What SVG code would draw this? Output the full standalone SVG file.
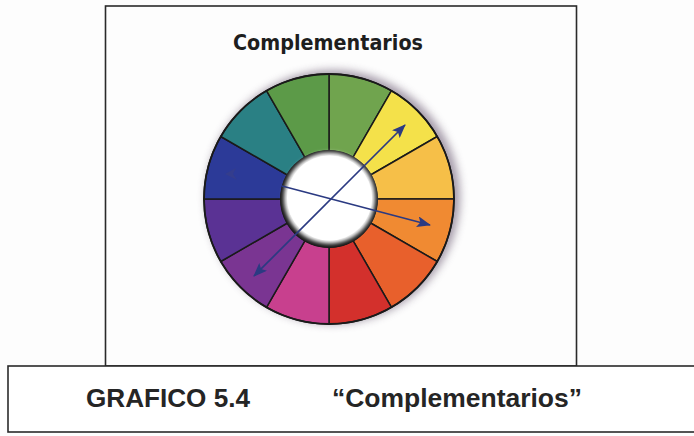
<svg xmlns="http://www.w3.org/2000/svg" width="694" height="436" viewBox="0 0 694 436">
<defs>
<style>
.frame{fill:none;stroke:#2a2a2a;stroke-width:1.6}
.seg{stroke:#1a1a1a;stroke-width:1.5;stroke-linejoin:round}
.arrow{stroke:#2b3a82;stroke-width:1.7;fill:none}
.title{font-family:"DejaVu Sans",Verdana,sans-serif;font-weight:bold;font-size:20.5px;fill:#1e1e1e}
.cap{font-family:"Liberation Sans",Arial,sans-serif;font-weight:bold;font-size:25px;fill:#252525}
</style>
<path id="sector" d="M0,-125 A125,125 0 0 1 62.5,-108.25 L24,-41.57 A48,48 0 0 0 0,-48 Z"/>
<marker id="ah" viewBox="0 0 14 11" refX="13" refY="5.5" markerWidth="14" markerHeight="11" markerUnits="userSpaceOnUse" orient="auto-start-reverse">
<path d="M0,0 L14,5.5 L0,11 L3,5.5 Z" fill="#2b3a82"/>
</marker>
<filter id="blur4" x="-30%" y="-30%" width="160%" height="160%"><feGaussianBlur stdDeviation="4"/></filter>
<filter id="blur2" x="-30%" y="-30%" width="160%" height="160%"><feGaussianBlur stdDeviation="2"/></filter>
</defs>
<rect width="694" height="436" fill="#fdfdfd"/>
<g id="frame-top"><rect class="frame" x="105.5" y="6" width="471" height="360" fill="#ffffff"/></g>
<g id="title"><text class="title" x="328" y="50" text-anchor="middle" textLength="190" lengthAdjust="spacingAndGlyphs">Complementarios</text></g>
<g id="wheel">
<circle cx="333" cy="197" r="127" fill="#6a5a72" opacity="0.6" filter="url(#blur4)"/>
<g transform="translate(329,199)">
<use href="#sector" class="seg" fill="#70a44e" transform="rotate(0)"/>
<use href="#sector" class="seg" fill="#f4e14a" transform="rotate(30)"/>
<use href="#sector" class="seg" fill="#f6bf48" transform="rotate(60)"/>
<use href="#sector" class="seg" fill="#f08a32" transform="rotate(90)"/>
<use href="#sector" class="seg" fill="#e8602c" transform="rotate(120)"/>
<use href="#sector" class="seg" fill="#d3302c" transform="rotate(150)"/>
<use href="#sector" class="seg" fill="#c8408e" transform="rotate(180)"/>
<use href="#sector" class="seg" fill="#7a3592" transform="rotate(210)"/>
<use href="#sector" class="seg" fill="#5a3294" transform="rotate(240)"/>
<use href="#sector" class="seg" fill="#2c3a98" transform="rotate(270)"/>
<use href="#sector" class="seg" fill="#2a8084" transform="rotate(300)"/>
<use href="#sector" class="seg" fill="#5c9a48" transform="rotate(330)"/>
<circle r="125" fill="none" stroke="#1a1a1a" stroke-width="1.8"/>
<circle r="49" fill="#151515"/>
<circle cx="0.5" cy="-1" r="45.5" fill="#ffffff" filter="url(#blur2)"/>
<circle cx="0.5" cy="-1" r="42.5" fill="#ffffff"/>
</g>
<path d="M236,168 L225,174 L237,180 L233,174 Z" fill="#3b3f86" opacity="0.6"/>
</g>
<g id="connectors">
<line class="arrow" x1="254" y1="276" x2="405" y2="125" marker-start="url(#ah)" marker-end="url(#ah)"/>
<line class="arrow" x1="282" y1="186" x2="430" y2="225" marker-end="url(#ah)"/>
</g>
<g id="caption">
<rect x="8" y="366" width="700" height="66" fill="#ffffff" stroke="#2a2a2a" stroke-width="1.6"/>
<text class="cap" x="86" y="407" textLength="164" lengthAdjust="spacingAndGlyphs">GRAFICO 5.4</text>
<text class="cap" x="332" y="407" textLength="250" lengthAdjust="spacingAndGlyphs">“Complementarios”</text>
</g>
</svg>
